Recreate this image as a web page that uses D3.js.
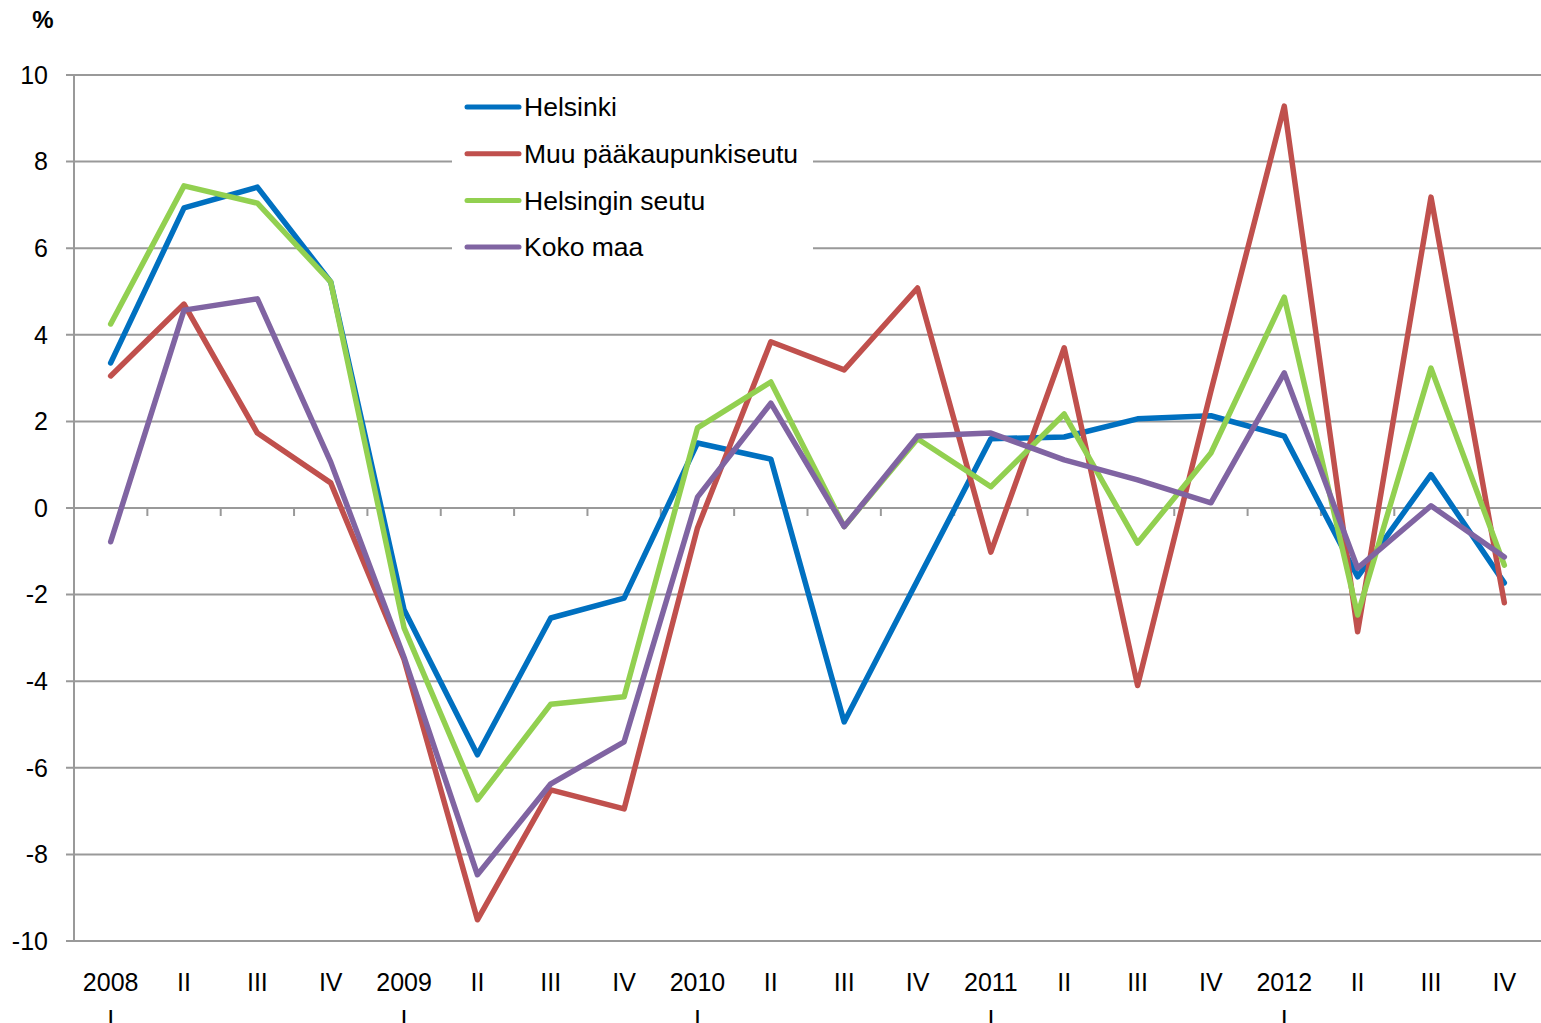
<!DOCTYPE html>
<html>
<head>
<meta charset="utf-8">
<script src="https://d3js.org/d3.v7.min.js"></script>
<style>
  body { margin: 0; background: #fff; }
  svg { display: block; font-family: "Liberation Sans", Arial, sans-serif; }
  .grid line { stroke: #999; stroke-width: 2px; }
  .tick-label { font-size: 25px; fill: #000; }
  .series { fill: none; stroke-width: 5.5px; stroke-linejoin: round; stroke-linecap: round; }
</style>
</head>
<body>
<svg id="chart" width="1541" height="1023"></svg>
<script>
// quarters 2008 I .. 2012 IV
var quarters = ["I", "II", "III", "IV"];
var years = ["2008", "2009", "2010", "2011", "2012"];
var categories = [];
years.forEach(function (yr) {
  quarters.forEach(function (q) { categories.push(yr + " " + q); });
});

var helsinki = [3.35, 6.93, 7.41, 5.22, -2.35, -5.7, -2.54, -2.08, 1.5, 1.13, -4.94, -1.67, 1.6, 1.64, 2.06, 2.13, 1.66, -1.59, 0.77, -1.73];
var muuPks = [3.05, 4.71, 1.73, 0.58, -3.5, -9.51, -6.51, -6.95, -0.46, 3.84, 3.19, 5.08, -1.02, 3.7, -4.1, 2.7, 9.28, -2.86, 7.18, -2.19];
var helsinginSeutu = [4.25, 7.44, 7.04, 5.22, -2.77, -6.74, -4.53, -4.36, 1.85, 2.91, -0.43, 1.6, 0.49, 2.17, -0.81, 1.27, 4.87, -2.47, 3.23, -1.32];
var kokoMaa = [-0.78, 4.57, 4.83, 1.06, -3.45, -8.47, -6.37, -5.4, 0.25, 2.42, -0.43, 1.66, 1.73, 1.11, 0.65, 0.12, 3.12, -1.39, 0.05, -1.13];

var seriesNames = ["Helsinki", "Muu pääkaupunkiseutu", "Helsingin seutu", "Koko maa"];
var seriesColors = ["#0070C0", "#C0504D", "#92D050", "#8064A2"];
var seriesValues = [helsinki, muuPks, helsinginSeutu, kokoMaa];

var yTicks = [-10, -8, -6, -4, -2, 0, 2, 4, 6, 8, 10];

var svg = d3.select("#chart");
var plotLeft = 74, plotRight = 1541, plotTop = 75, plotBottom = 941;

var x = d3.scaleBand().domain(categories).range([plotLeft, plotRight]);
var y = d3.scaleLinear().domain([-10, 10]).range([plotBottom, plotTop]);

// horizontal gridlines
svg.append("g").attr("class", "grid")
  .selectAll("line").data(yTicks).enter().append("line")
  .attr("x1", plotLeft - 8).attr("x2", plotRight)
  .attr("y1", function (d) { return y(d); })
  .attr("y2", function (d) { return y(d); });

// y axis line
svg.append("line")
  .attr("x1", plotLeft).attr("x2", plotLeft).attr("y1", plotTop).attr("y2", plotBottom)
  .attr("stroke", "#999").attr("stroke-width", 2);

// category ticks on zero line
svg.append("g").attr("class", "grid")
  .selectAll("line").data(categories.slice(1)).enter().append("line")
  .attr("x1", function (d) { return x(d); })
  .attr("x2", function (d) { return x(d); })
  .attr("y1", y(0)).attr("y2", y(0) + 8);

// y labels
svg.append("g").selectAll("text").data(yTicks).enter().append("text")
  .attr("class", "tick-label")
  .attr("x", 48).attr("y", function (d) { return y(d); })
  .attr("dy", "0.35em").attr("text-anchor", "end")
  .text(function (d) { return d; });

svg.append("text").attr("x", 43).attr("y", 28)
  .attr("text-anchor", "middle").attr("font-weight", "bold")
  .attr("font-size", 24).text("%");

// x labels
var xl = svg.append("g").selectAll("g").data(categories).enter().append("g")
  .attr("transform", function (d) { return "translate(" + (x(d) + x.bandwidth() / 2) + ",0)"; });
xl.append("text").attr("class", "tick-label").attr("text-anchor", "middle")
  .attr("y", 991)
  .text(function (d) { var p = d.split(" "); return p[1] === "I" ? p[0] : p[1]; });
xl.filter(function (d) { return d.split(" ")[1] === "I"; })
  .append("text").attr("class", "tick-label").attr("text-anchor", "middle")
  .attr("y", 1028).text("I");

// legend background
svg.append("rect").attr("x", 452).attr("y", 86).attr("width", 361).attr("height", 182)
  .attr("fill", "#fff");

// series
var line = d3.line()
  .x(function (d, i) { return x(categories[i]) + x.bandwidth() / 2; })
  .y(function (d) { return y(d); });

seriesValues.forEach(function (vals, k) {
  svg.append("path").attr("class", "series")
    .attr("stroke", seriesColors[k])
    .attr("d", line(vals));
});

// legend
var lg = svg.append("g").selectAll("g").data(seriesNames).enter().append("g")
  .attr("transform", function (d, i) { return "translate(0," + (107 + i * 46.7) + ")"; });
lg.append("line").attr("x1", 467).attr("x2", 519).attr("y1", 0).attr("y2", 0)
  .attr("stroke", function (d, i) { return seriesColors[i]; })
  .attr("stroke-width", 5).attr("stroke-linecap", "round");
lg.append("text").attr("x", 524).attr("y", 0).attr("dy", "0.35em")
  .attr("font-size", 26.5).text(function (d) { return d; });
</script>
</body>
</html>
